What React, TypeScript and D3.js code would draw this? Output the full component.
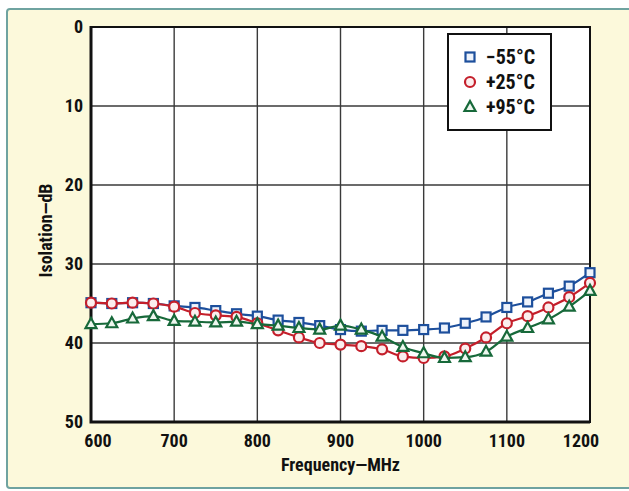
import * as d3 from 'd3'
import React, { useEffect, useRef } from 'react'

const freqs = [600, 625, 650, 675, 700, 725, 750, 775, 800, 825, 850, 875, 900, 925, 950, 975, 1000, 1025, 1050, 1075, 1100, 1125, 1150, 1175, 1200]
const coldValues = [34.9, 35.0, 34.9, 35.0, 35.3, 35.5, 35.9, 36.3, 36.6, 37.1, 37.4, 37.8, 38.3, 38.5, 38.4, 38.4, 38.3, 38.1, 37.5, 36.7, 35.5, 34.8, 33.7, 32.8, 31.1]
const roomValues = [34.9, 35.0, 34.9, 35.0, 35.4, 36.2, 36.5, 36.7, 37.5, 38.4, 39.3, 40.0, 40.2, 40.4, 40.8, 41.7, 41.9, 41.7, 40.7, 39.3, 37.5, 36.6, 35.5, 34.2, 32.4]
const hotValues = [37.6, 37.5, 36.9, 36.6, 37.2, 37.3, 37.4, 37.3, 37.6, 37.8, 38.1, 38.3, 37.8, 38.3, 39.2, 40.5, 41.3, 41.9, 41.8, 41.1, 39.2, 38.1, 37.0, 35.4, 33.4]
const xTicks = [600, 700, 800, 900, 1000, 1100, 1200]
const yTicks = [0, 10, 20, 30, 40, 50]
const seriesNames = ['\u221255\u00b0C', '+25\u00b0C', '+95\u00b0C']
const seriesColors = ['#1d4f9c', '#c41f2b', '#17693a']
const seriesShapes = ['square', 'circle', 'triangle']

const W = 629
const H = 491
const margin = { left: 91, right: 39, top: 27, bottom: 69 }
const font = "'Liberation Sans Narrow', 'Roboto Condensed', 'Arial Narrow', sans-serif"

export default function App() {
  const svgRef = useRef<SVGSVGElement | null>(null)

  useEffect(() => {
    const svg = d3.select(svgRef.current)
    svg.selectAll('*').remove()

    const x = d3.scaleLinear().domain([600, 1200]).range([margin.left, W - margin.right])
    const y = d3.scaleLinear().domain([0, 50]).range([margin.top, H - margin.bottom])

    // page background
    svg.append('rect').attr('width', W).attr('height', H).attr('fill', '#ffffff')
    svg
      .append('rect')
      .attr('x', 7)
      .attr('y', 9)
      .attr('width', W + 10)
      .attr('height', H - 12)
      .attr('rx', 3)
      .attr('fill', '#fcf9db')
      .attr('stroke', '#6fa3a0')
      .attr('stroke-width', 2)

    // plot area
    svg
      .append('rect')
      .attr('x', x(600))
      .attr('y', y(0))
      .attr('width', x(1200) - x(600))
      .attr('height', y(50) - y(0))
      .attr('fill', '#ffffff')

    const grid = svg.append('g').attr('stroke', '#3a3a3a').attr('stroke-width', 1.4)
    grid
      .selectAll('line.v')
      .data(xTicks.slice(1, -1))
      .enter()
      .append('line')
      .attr('x1', (d) => x(d))
      .attr('x2', (d) => x(d))
      .attr('y1', y(0))
      .attr('y2', y(50))
    grid
      .selectAll('line.h')
      .data(yTicks.slice(1, -1))
      .enter()
      .append('line')
      .attr('x1', x(600))
      .attr('x2', x(1200))
      .attr('y1', (d) => y(d))
      .attr('y2', (d) => y(d))

    svg
      .append('rect')
      .attr('x', x(600))
      .attr('y', y(0))
      .attr('width', x(1200) - x(600))
      .attr('height', y(50) - y(0))
      .attr('fill', 'none')
      .attr('stroke', '#111')
      .attr('stroke-width', 2)
    svg
      .append('path')
      .attr('d', `M${x(600)},${y(0) - 1}V${y(50)}H${x(1200)}`)
      .attr('fill', 'none')
      .attr('stroke', '#111')
      .attr('stroke-width', 3)

    // axis labels
    svg
      .append('g')
      .selectAll('text')
      .data(xTicks)
      .enter()
      .append('text')
      .attr('x', (d, i) => x(d) + (i === 0 ? 7 : i === xTicks.length - 1 ? -9 : 0))
      .attr('y', y(50) + 25)
      .attr('text-anchor', 'middle')
      .style('font-family', font)
      .style('font-weight', 'bold')
      .style('font-size', '18px')
      .attr('fill', '#111')
      .text((d) => d)

    svg
      .append('g')
      .selectAll('text')
      .data(yTicks)
      .enter()
      .append('text')
      .attr('x', x(600) - 8)
      .attr('y', (d) => y(d) + 6)
      .attr('text-anchor', 'end')
      .style('font-family', font)
      .style('font-weight', 'bold')
      .style('font-size', '18px')
      .attr('fill', '#111')
      .text((d) => d)

    svg
      .append('text')
      .attr('x', (x(600) + x(1200)) / 2)
      .attr('y', y(50) + 49)
      .attr('text-anchor', 'middle')
      .style('font-family', font)
      .style('font-weight', 'bold')
      .style('font-size', '18px')
      .attr('fill', '#111')
      .text('Frequency\u2014MHz')

    svg
      .append('text')
      .attr('transform', `translate(52,${(y(0) + y(50)) / 2 + 6}) rotate(-90)`)
      .attr('text-anchor', 'middle')
      .style('font-family', font)
      .style('font-weight', 'bold')
      .style('font-size', '18px')
      .attr('fill', '#111')
      .text('Isolation\u2014dB')

    // series
    const allValues = [coldValues, roomValues, hotValues]
    const line = d3
      .line<number>()
      .x((_, i) => x(freqs[i]))
      .y((d) => y(d))
      .curve(d3.curveMonotoneX)

    const drawMarker = (g: any, shape: string, color: string, cx: number, cy: number) => {
      if (shape === 'square') {
        g.append('rect')
          .attr('x', cx - 4.5)
          .attr('y', cy - 4.5)
          .attr('width', 9)
          .attr('height', 9)
          .attr('fill', '#eef3fb')
          .attr('stroke', color)
          .attr('stroke-width', 2.2)
      } else if (shape === 'circle') {
        g.append('circle')
          .attr('cx', cx)
          .attr('cy', cy)
          .attr('r', 5)
          .attr('fill', '#fbeeee')
          .attr('stroke', color)
          .attr('stroke-width', 2.2)
      } else {
        g.append('path')
          .attr('d', `M${cx},${cy - 6}L${cx + 5.5},${cy + 4}L${cx - 5.5},${cy + 4}Z`)
          .attr('fill', '#eef7ef')
          .attr('stroke', color)
          .attr('stroke-width', 2.2)
      }
    }

    allValues.forEach((vals, s) => {
      const g = svg.append('g')
      g.append('path')
        .attr('d', line(vals))
        .attr('fill', 'none')
        .attr('stroke', seriesColors[s])
        .attr('stroke-width', 2.2)
      vals.forEach((v, i) => drawMarker(g, seriesShapes[s], seriesColors[s], x(freqs[i]), y(v)))
    })

    // legend
    const lg = svg.append('g')
    lg.append('rect')
      .attr('x', 448)
      .attr('y', 34)
      .attr('width', 103)
      .attr('height', 96)
      .attr('fill', '#ffffff')
      .attr('stroke', '#111')
      .attr('stroke-width', 2)
    seriesNames.forEach((name, s) => {
      const cy = 57 + s * 25
      drawMarker(lg, seriesShapes[s], seriesColors[s], 470, cy)
      lg.append('text')
        .attr('x', 486)
        .attr('y', cy + 7)
        .style('font-family', font)
        .style('font-weight', 'bold')
        .style('font-size', '20px')
        .attr('fill', '#111')
        .text(name)
    })
  }, [])

  return (
    <svg
      ref={svgRef}
      width={W}
      height={H}
      style={{ position: 'absolute', left: 0, top: 0, display: 'block' }}
    ></svg>
  )
}
